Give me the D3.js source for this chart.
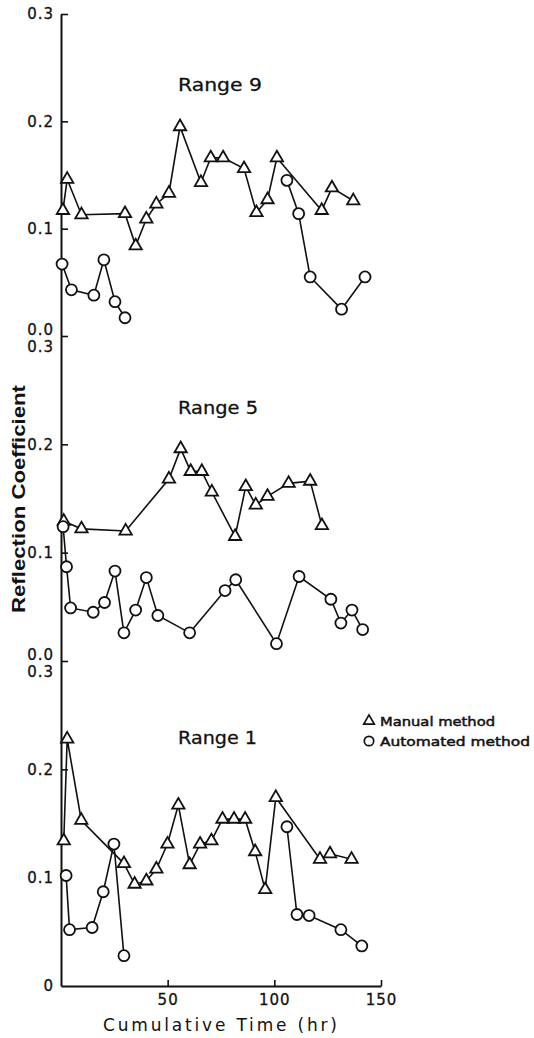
<!DOCTYPE html>
<html><head><meta charset="utf-8">
<script src="https://cdn.jsdelivr.net/npm/d3@7"></script>
<style>body{margin:0;background:#fff}svg{display:block}</style>
</head><body><script>
// [cumulative time (hr), reflection coefficient]
const range9Manual = [[0.9,0.117],[2.9,0.146],[9.6,0.113],[30,0.114],[35,0.084],[40,0.109],[44.7,0.123],[50.6,0.133],[55.8,0.195],[65.6,0.143],[70.2,0.166],[76,0.166],[85.8,0.156],[91.6,0.115],[96.8,0.127],[101.2,0.166],[122.2,0.117],[127,0.138],[137,0.126]];
const range9AutoA = [[0.5,0.067],[4.9,0.043],[15.4,0.038],[20.1,0.071],[25.3,0.032],[30,0.017]];
const range9AutoB = [[105.9,0.145],[111.4,0.114],[116.8,0.055],[131.5,0.025],[142.5,0.055]];

const range5Manual = [[1.3,0.129],[9.6,0.122],[30.3,0.120],[50.6,0.168],[56.1,0.196],[60.8,0.175],[66,0.175],[70.7,0.156],[81.6,0.115],[86.6,0.161],[91.3,0.144],[96.8,0.152],[106.7,0.164],[116.8,0.166],[122.3,0.125]];
const range5Auto = [[1,0.124],[2.6,0.087],[4.5,0.049],[15.1,0.045],[20.4,0.054],[25.3,0.083],[29.5,0.026],[35,0.047],[40,0.077],[45.4,0.042],[60.3,0.026],[76.9,0.065],[81.9,0.075],[101,0.016],[111.6,0.078],[126.5,0.057],[131.2,0.035],[136.4,0.047],[141.4,0.029]];

const range1Manual = [[1.3,0.134],[2.9,0.228],[9.5,0.153],[29.5,0.113],[34.5,0.094],[40,0.097],[44.7,0.108],[49.9,0.131],[55,0.167],[60.3,0.112],[65.2,0.131],[70.5,0.134],[75.7,0.154],[81.1,0.154],[86.3,0.154],[91,0.124],[95.7,0.089],[100.7,0.174],[121.4,0.117],[126.1,0.122],[136.2,0.117]];
const range1AutoA = [[2.4,0.102],[4,0.052],[14.6,0.054],[19.8,0.087],[24.8,0.131],[29.5,0.028]];
const range1AutoB = [[105.9,0.147],[110.6,0.066],[116.3,0.065],[131.2,0.052],[141,0.037]];

const panelTitles = ["Range 9","Range 5","Range 1"];
const yTicks = [0,0.1,0.2,0.3];
const xTicks = [50,100,150];
const legendLabels = ["Manual method","Automated method"];

const W=534,H=1038;
const FONT="DejaVu Sans, sans-serif";
const INK="#111";
const svg=d3.select("body").append("svg").attr("width",W).attr("height",H);
svg.append("rect").attr("width",W).attr("height",H).attr("fill","#fff");

const x=d3.scaleLinear().domain([0,150]).range([61,381]);
const panels=[
  {title:panelTitles[0],top:14,bottom:336,manual:[range9Manual],auto:[range9AutoA,range9AutoB],titleY:91,titleW:84},
  {title:panelTitles[1],top:336,bottom:661,manual:[range5Manual],auto:[range5Auto],titleY:414,titleW:80},
  {title:panelTitles[2],top:661,bottom:986,manual:[range1Manual],auto:[range1AutoA,range1AutoB],titleY:744,titleW:79}
];
const tri=d3.symbol().type(d3.symbolTriangle).size(66);
const circ=d3.symbol().type(d3.symbolCircle).size(95);

function styleTickText(sel){
  sel.attr("font-family",FONT).attr("font-size",15).attr("fill",INK)
    .attr("stroke",INK).attr("stroke-width",0.3).attr("letter-spacing",1);
}

panels.forEach((p,i)=>{
  const y=d3.scaleLinear().domain([0,0.3]).range([p.bottom,p.top]);
  const isTop=i===0,isBottom=i===panels.length-1;
  const ax=svg.append("g").attr("transform","translate(61,0)")
    .call(d3.axisLeft(y).tickValues(yTicks).tickSize(-7).tickSizeOuter(0).tickPadding(7)
      .tickFormat(d=>(isBottom&&d===0)?"0":d3.format(".1f")(d)));
  ax.select(".domain").attr("stroke",INK).attr("stroke-width",2);
  ax.selectAll(".tick line").attr("stroke",INK).attr("stroke-width",1.6);
  styleTickText(ax.selectAll(".tick text"));
  ax.selectAll(".tick").filter(d=>d===0&&!isBottom).select("text").attr("y",-6);
  ax.selectAll(".tick").filter(d=>d===0.3&&!isTop).select("text").attr("y",11);
  ax.selectAll(".tick").filter(d=>d===0.3&&!isTop).select("line").remove();
  if(isBottom) ax.selectAll(".tick").filter(d=>d===0).select("line").remove();

  svg.append("text").attr("x",178).attr("y",p.titleY).attr("font-family",FONT).attr("font-size",18)
    .attr("stroke",INK).attr("stroke-width",0.3)
    .attr("textLength",p.titleW).attr("lengthAdjust","spacingAndGlyphs").attr("fill",INK).text(p.title);

  const line=d3.line().x(d=>x(d[0])).y(d=>y(d[1]));
  const g=svg.append("g");
  p.manual.concat(p.auto).forEach(seg=>{
    g.append("path").attr("d",line(seg)).attr("fill","none").attr("stroke",INK).attr("stroke-width",1.6);
  });
  p.manual.forEach(seg=>{
    g.selectAll(null).data(seg).enter().append("path").attr("d",tri)
      .attr("transform",d=>`translate(${x(d[0])},${y(d[1])})`)
      .attr("fill","#fff").attr("stroke",INK).attr("stroke-width",1.8);
  });
  p.auto.forEach(seg=>{
    g.selectAll(null).data(seg).enter().append("path").attr("d",circ)
      .attr("transform",d=>`translate(${x(d[0])},${y(d[1])})`)
      .attr("fill","#fff").attr("stroke",INK).attr("stroke-width",1.8);
  });
});

// x axis
const xa=svg.append("g").attr("transform","translate(0,986)")
  .call(d3.axisBottom(x).tickValues(xTicks).tickSize(-6).tickSizeOuter(0).tickPadding(8));
xa.select(".domain").attr("stroke",INK).attr("stroke-width",2);
xa.selectAll(".tick line").attr("stroke",INK).attr("stroke-width",1.6);
styleTickText(xa.selectAll(".tick text"));

svg.append("text").attr("x",220).attr("y",1031).attr("text-anchor","middle")
  .attr("font-family",FONT).attr("font-size",17).attr("fill",INK)
  .attr("textLength",234).attr("lengthAdjust","spacing").text("Cumulative Time (hr)");

svg.append("text").attr("transform","translate(25,499) rotate(-90)").attr("text-anchor","middle")
  .attr("font-family","Liberation Sans, Arial, sans-serif").attr("font-weight","bold").attr("font-size",19).attr("fill",INK)
  .attr("textLength",228).attr("lengthAdjust","spacingAndGlyphs").text("Reflection  Coefficient");

// legend
const lg=svg.append("g");
const legTri=d3.symbol().type(d3.symbolTriangle).size(48);
const legCirc=d3.symbol().type(d3.symbolCircle).size(70);
lg.append("path").attr("d",legTri).attr("transform","translate(369,721)").attr("fill","#fff").attr("stroke",INK).attr("stroke-width",1.7);
lg.append("path").attr("d",legCirc).attr("transform","translate(369,741)").attr("fill","#fff").attr("stroke",INK).attr("stroke-width",1.7);
lg.append("text").attr("x",380).attr("y",726).attr("font-family",FONT).attr("font-size",13).attr("fill",INK)
  .attr("stroke",INK).attr("stroke-width",0.5)
  .attr("textLength",115).attr("lengthAdjust","spacingAndGlyphs").text(legendLabels[0]);
lg.append("text").attr("x",380).attr("y",746).attr("font-family",FONT).attr("font-size",13).attr("fill",INK)
  .attr("stroke",INK).attr("stroke-width",0.5)
  .attr("textLength",150).attr("lengthAdjust","spacingAndGlyphs").text(legendLabels[1]);
</script></body></html>
